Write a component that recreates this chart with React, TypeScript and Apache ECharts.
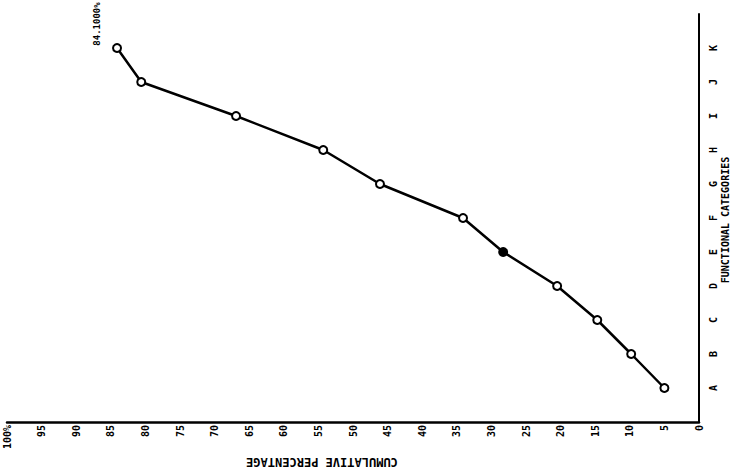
import React, { useEffect, useRef } from "react";
import * as echarts from "echarts";

const categories = ["A", "B", "C", "D", "E", "F", "G", "H", "I", "J", "K"];
const cumulativePercent = [5.0, 9.8, 14.7, 20.5, 28.3, 34.1, 46.1, 54.3, 66.9, 80.6, 84.1];
const xTicks = [0, 5, 10, 15, 20, 25, 30, 35, 40, 45, 50, 55, 60, 65, 70, 75, 80, 85, 90, 95, 100];
const filledPoints = ["E"];
const topLabel = "84.1000%";

export default function App() {
  const ref = useRef<HTMLDivElement>(null);
  useEffect(() => {
    if (!ref.current) return;
    const chart = echarts.init(ref.current, undefined, { renderer: "svg" });
    const font = "DejaVu Sans Mono";
    const data = categories.map((c, i) => {
      const item: any = { value: [cumulativePercent[i], i] };
      if (filledPoints.includes(c)) {
        item.itemStyle = { color: "#000" };
      }
      return item;
    });
    chart.setOption({
      animation: false,
      backgroundColor: "#fff",
      grid: { left: 7, right: 31, top: 14, height: 408, containLabel: false, outerBoundsMode: "none" },
      xAxis: {
        type: "value",
        inverse: true,
        min: xTicks[0],
        max: xTicks[xTicks.length - 1],
        interval: 5,
        axisLine: { show: true, onZero: false, lineStyle: { color: "#000", width: 2.5 } },
        axisTick: { show: false },
        splitLine: { show: false },
        axisLabel: {
          rotate: 90,
          margin: 3,
          color: "#000",
          fontFamily: font,
          fontWeight: "bold",
          fontSize: 10,
          showMinLabel: true,
          showMaxLabel: true,
          formatter: (v: number) => (v === 100 ? "100%" : String(v)),
        },
      },
      yAxis: {
        type: "value",
        position: "right",
        min: -1,
        max: 11,
        interval: 1,
        axisLine: { show: true, onZero: false, lineStyle: { color: "#000", width: 2 } },
        axisTick: { show: false },
        splitLine: { show: false },
        axisLabel: {
          rotate: 90,
          margin: 9,
          color: "#000",
          fontFamily: font,
          fontWeight: "bold",
          fontSize: 10,
          formatter: (v: number) => categories[v] ?? "",
        },
      },
      series: [
        {
          type: "line",
          data,
          symbol: "circle",
          symbolSize: 8,
          showAllSymbol: true,
          lineStyle: { color: "#000", width: 2.5 },
          itemStyle: { color: "#fff", borderColor: "#000", borderWidth: 2 },
        },
      ],
    });
    const last = categories.length - 1;
    const p = chart.convertToPixel({ gridIndex: 0 }, [cumulativePercent[last], last]) as number[];
    chart.setOption({
      graphic: [
        {
          type: "text",
          x: 322,
          y: 462,
          rotation: Math.PI,
          style: {
            text: "CUMULATIVE PERCENTAGE",
            fill: "#000",
            font: "bold 12px DejaVu Sans Mono",
            align: "center",
            verticalAlign: "middle",
          },
        },
        {
          type: "text",
          x: 725,
          y: 220,
          rotation: Math.PI / 2,
          style: {
            text: "FUNCTIONAL CATEGORIES",
            fill: "#000",
            font: "bold 10px DejaVu Sans Mono",
            align: "center",
            verticalAlign: "middle",
          },
        },
        {
          type: "text",
          x: p[0] - 20,
          y: p[1] - 24,
          rotation: Math.PI / 2,
          style: {
            text: topLabel,
            fill: "#000",
            font: "bold 9px DejaVu Sans Mono",
            align: "center",
            verticalAlign: "middle",
          },
        },
      ],
    });
    return () => chart.dispose();
  }, []);
  return (
    <div
      ref={ref}
      style={{ position: "fixed", left: 0, top: 0, width: 730, height: 475 }}
    />
  );
}
